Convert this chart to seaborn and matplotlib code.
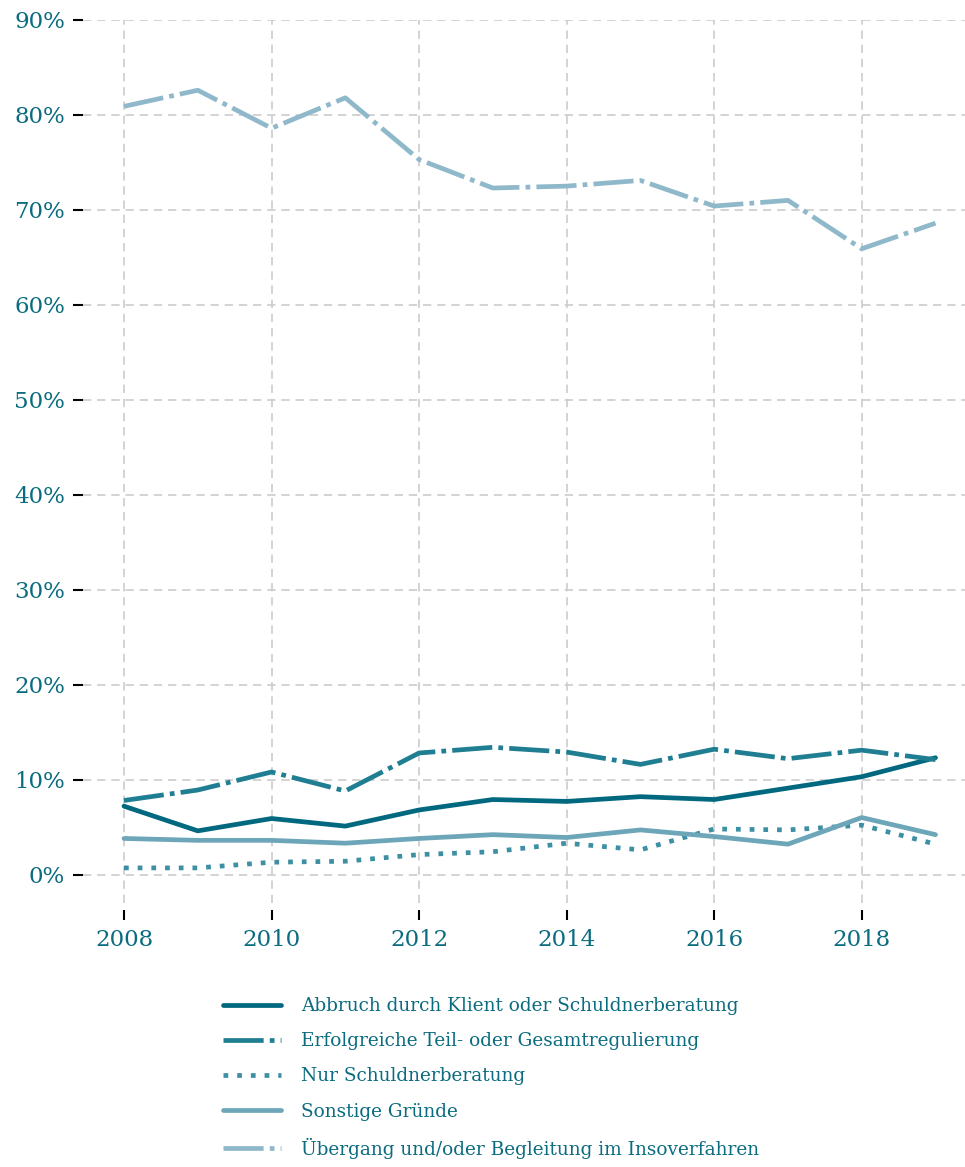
import matplotlib
matplotlib.use("Agg")
import matplotlib.pyplot as plt
import matplotlib.ticker as mticker
import numpy as np
import pandas as pd
import seaborn as sns

# Beendigungsgründe der Beratung, Anteile in Prozent
jahre = [2008, 2009, 2010, 2011, 2012, 2013, 2014, 2015, 2016, 2017, 2018, 2019]
gruende = [
    "Abbruch durch Klient oder Schuldnerberatung",
    "Erfolgreiche Teil- oder Gesamtregulierung",
    "Nur Schuldnerberatung",
    "Sonstige Gründe",
    "Übergang und/oder Begleitung im Insoverfahren",
]
abbruch = [7.2, 4.6, 5.9, 5.1, 6.8, 7.9, 7.7, 8.2, 7.9, 9.1, 10.3, 12.3]
erfolgreich = [7.8, 8.9, 10.8, 8.8, 12.8, 13.4, 12.9, 11.6, 13.2, 12.2, 13.1, 12.1]
nur_beratung = [0.7, 0.7, 1.3, 1.4, 2.1, 2.4, 3.3, 2.6, 4.8, 4.7, 5.2, 3.2]
sonstige = [3.8, 3.6, 3.6, 3.3, 3.8, 4.2, 3.9, 4.7, 4.0, 3.2, 6.0, 4.2]
uebergang = [80.9, 82.6, 78.6, 81.8, 75.3, 72.3, 72.5, 73.1, 70.4, 71.0, 65.9, 68.6]
y_ticks = [0, 10, 20, 30, 40, 50, 60, 70, 80, 90]
x_ticks = [2008, 2010, 2012, 2014, 2016, 2018]

farben = ["#00687f", "#1f7e92", "#3d8fa4", "#6ca6b8", "#8fb9ca"]
striche = ["", (8.5, 1.3, 1.0, 1.3), (1.0, 1.9), "", (8.5, 1.3, 1.0, 1.3)]
textfarbe = "#0b6c80"

df = pd.DataFrame({
    "Jahr": jahre * 5,
    "Anteil": abbruch + erfolgreich + nur_beratung + sonstige + uebergang,
    "Grund": np.repeat(gruende, len(jahre)),
})

sns.set_theme(style="white")
plt.rcParams["font.family"] = ["DejaVu Serif"]

fig = plt.figure(figsize=(9.65, 11.67), dpi=100)
ax = fig.add_axes([0.086, 0.2262, 0.914, 0.7567])

sns.lineplot(
    data=df, x="Jahr", y="Anteil", hue="Grund", style="Grund",
    hue_order=gruende, style_order=gruende,
    palette=dict(zip(gruende, farben)),
    dashes=dict(zip(gruende, striche)),
    linewidth=3.4, ax=ax, legend=True,
)

ax.set_xlim(2007.444, 2019.40)
ax.set_ylim(-3, 90)
ax.set_xticks(x_ticks)
ax.set_yticks(y_ticks)
ax.yaxis.set_major_formatter(mticker.FuncFormatter(lambda v, _: f"{v:.0f}%"))
ax.set_xlabel("")
ax.set_ylabel("")

for s in ax.spines.values():
    s.set_visible(False)
ax.spines["bottom"].set_position(("outward", 5))

ax.grid(True, which="major", color="#cccccc", linestyle=(0, (5, 3.5)), linewidth=1.2)
ax.set_axisbelow(True)
ax.tick_params(axis="both", which="major", direction="out", length=7, width=1.5,
               color="black", labelcolor=textfarbe, labelsize=16.5,
               bottom=True, left=True)
ax.tick_params(axis="y", pad=6)
ax.tick_params(axis="x", pad=7)

handles, labels = ax.get_legend_handles_labels()
ax.get_legend().remove()
leg = fig.legend(
    handles, labels, loc="upper center", bbox_to_anchor=(0.509, 0.152),
    frameon=False, fontsize=13.3, handlelength=3.1, handletextpad=1.1,
    labelspacing=0.93, borderaxespad=0,
)
for t in leg.get_texts():
    t.set_color(textfarbe)

fig.savefig("out.png", dpi=100)
